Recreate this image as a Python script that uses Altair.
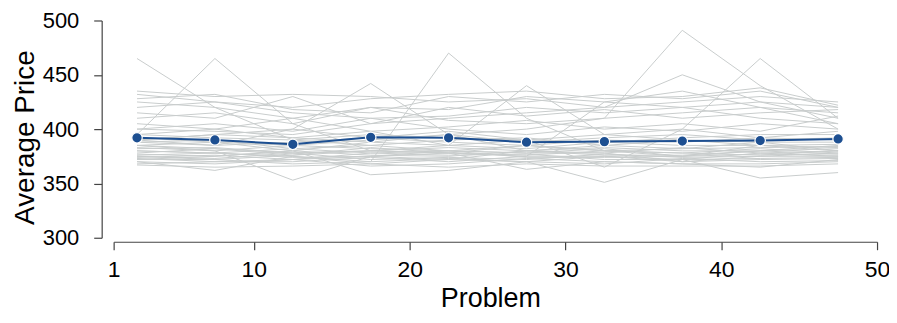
import altair as alt
import pandas as pd

# x positions of the block averages
block_x = [2.5, 7.5, 12.5, 17.5, 22.5, 27.5, 32.5, 37.5, 42.5, 47.5]

# overall average (blue line)
avg_price = [392, 390, 386, 392.5, 392, 388, 388.5, 389, 389.5, 391]

# individual series (gray lines)
gray_series = [
    [465, 420, 390, 385, 380, 378, 382, 375, 380, 385],
    [395, 465, 405, 380, 378, 385, 380, 378, 376, 380],
    [385, 380, 353, 375, 372, 380, 378, 370, 375, 378],
    [388, 385, 400, 442, 395, 380, 385, 382, 388, 380],
    [380, 378, 375, 370, 470, 410, 380, 375, 385, 383],
    [390, 395, 392, 398, 385, 440, 395, 390, 385, 380],
    [375, 372, 376, 380, 378, 375, 425, 420, 410, 405],
    [395, 400, 392, 388, 395, 400, 410, 491, 440, 400],
    [400, 398, 395, 405, 410, 415, 420, 450, 425, 420],
    [385, 382, 378, 380, 385, 390, 365, 400, 465, 410],
    [370, 362, 375, 368, 372, 370, 351, 372, 378, 375],
    [372, 375, 380, 358, 362, 370, 375, 372, 355, 360],
    [368, 370, 372, 375, 378, 363, 370, 368, 365, 372],
    [435, 430, 432, 430, 425, 428, 420, 425, 430, 425],
    [432, 425, 420, 428, 432, 435, 428, 430, 438, 422],
    [428, 432, 418, 415, 430, 425, 432, 428, 435, 420],
    [425, 420, 410, 420, 418, 430, 425, 435, 420, 415],
    [420, 425, 415, 410, 412, 420, 415, 420, 425, 410],
    [415, 410, 430, 405, 420, 412, 418, 410, 415, 418],
    [410, 415, 405, 420, 408, 405, 410, 415, 420, 405],
    [405, 400, 410, 398, 402, 408, 400, 405, 398, 412],
    [400, 405, 398, 410, 400, 395, 402, 398, 405, 400],
    [395, 392, 390, 395, 392, 390, 388, 392, 395, 395],
    [392, 388, 385, 390, 395, 388, 392, 395, 390, 392],
    [390, 385, 388, 392, 388, 385, 390, 388, 392, 390],
    [388, 390, 382, 385, 390, 392, 385, 390, 388, 388],
    [385, 388, 380, 388, 385, 382, 388, 385, 385, 386],
    [383, 380, 385, 382, 380, 385, 380, 382, 383, 384],
    [382, 383, 378, 380, 383, 380, 383, 380, 380, 382],
    [380, 378, 382, 378, 380, 378, 378, 383, 378, 380],
    [378, 382, 376, 383, 378, 376, 380, 378, 382, 378],
    [377, 375, 380, 376, 375, 380, 376, 376, 380, 377],
    [376, 378, 374, 375, 380, 374, 374, 375, 377, 376],
    [375, 373, 378, 372, 374, 372, 377, 374, 375, 375],
    [374, 376, 372, 378, 376, 377, 372, 372, 373, 374],
    [373, 370, 370, 374, 370, 375, 375, 370, 372, 373],
    [372, 372, 368, 370, 373, 370, 368, 373, 370, 371],
    [370, 368, 372, 366, 368, 373, 370, 368, 368, 370],
    [367, 365, 366, 368, 365, 368, 366, 366, 366, 368],
    [390, 395, 400, 392, 398, 390, 395, 400, 392, 398],
]

x_ticks = [1, 10, 20, 30, 40, 50]
y_ticks = [300, 350, 400, 450, 500]

rows = []
for i, s in enumerate(gray_series):
    for x, v in zip(block_x, s):
        rows.append({"series": i, "problem": x, "price": v})
gray_df = pd.DataFrame(rows)
avg_df = pd.DataFrame({"problem": block_x, "price": avg_price})

FONT = "Liberation Sans"

x_enc = alt.X(
    "problem:Q",
    scale=alt.Scale(domain=[1, 50], nice=False, zero=False),
    axis=alt.Axis(
        values=x_ticks, title="Problem", offset=4, grid=False,
        labelFontSize=23, titleFontSize=27, tickSize=8,
        labelPadding=9, titlePadding=4, labelFlush=False, titleX=378,
    ),
)
y_enc = alt.Y(
    "price:Q",
    scale=alt.Scale(domain=[300, 500], nice=False, zero=False),
    axis=alt.Axis(
        values=y_ticks, title="Average Price", offset=12, grid=False,
        labelFontSize=22, titleFontSize=28, tickSize=8,
        labelPadding=15, titlePadding=3, labelFlush=False, titleY=117,
    ),
)

gray = alt.Chart(gray_df).mark_line(color="#c9cdcd", strokeWidth=1).encode(
    x=x_enc, y=y_enc, detail="series:N"
)
blue_line = alt.Chart(avg_df).mark_line(color="#1d4f91", strokeWidth=2).encode(
    x="problem:Q", y="price:Q"
)
blue_pts = alt.Chart(avg_df).mark_point(
    filled=True, color="#1d4f91", stroke="white", strokeWidth=1.2, size=110, opacity=1
).encode(x="problem:Q", y="price:Q")

chart = (
    alt.layer(gray, blue_line, blue_pts)
    .properties(
        width=766, height=218,
        autosize=alt.AutoSizeParams(type="none"),
        padding={"left": 106, "top": 12, "right": 12, "bottom": 85},
    )
    .configure_view(stroke=None)
    .configure_axis(
        labelFont=FONT, titleFont=FONT, labelColor="black", titleColor="black",
        domainColor="#444444", tickColor="#444444", domainWidth=1.2, tickWidth=1.2,
        titleFontWeight="normal",
    )
)

chart.save("out.html", embed_options={"renderer": "svg", "actions": False})
